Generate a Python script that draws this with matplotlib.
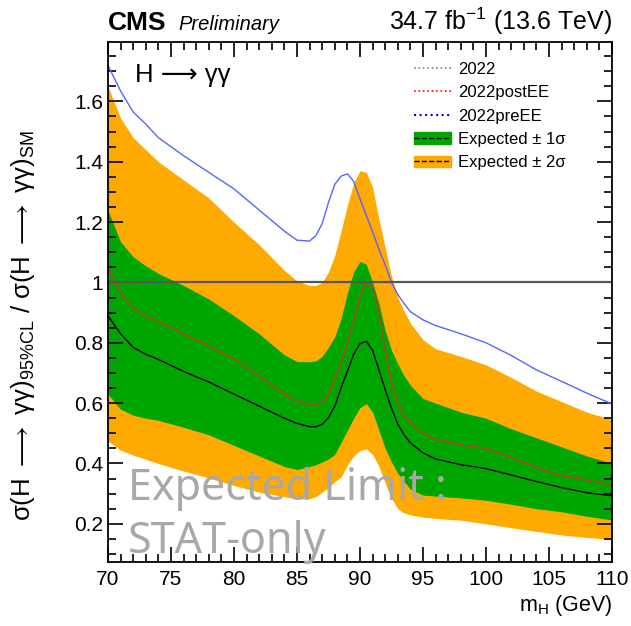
import matplotlib
matplotlib.use("Agg")
import matplotlib.pyplot as plt
from matplotlib.lines import Line2D
from matplotlib.patches import Patch
from matplotlib.ticker import MultipleLocator

plt.rcParams['font.family'] = ['Liberation Sans', 'DejaVu Sans']
plt.rcParams['mathtext.fontset'] = 'custom'
plt.rcParams['mathtext.rm'] = 'Liberation Sans'
plt.rcParams['mathtext.it'] = 'Liberation Sans:italic'
plt.rcParams['mathtext.fallback'] = 'stixsans'

mass = [70, 71, 72, 73, 74, 76, 78, 80, 82, 84, 85, 86, 86.5, 87, 87.5, 88, 88.5, 89, 89.5,
        90, 90.5, 91, 91.5, 92, 92.5, 93, 93.5, 94, 95, 96, 98, 100, 102, 104, 106, 108, 110]

pre_ee = [1.72, 1.635, 1.565, 1.525, 1.48, 1.42, 1.365, 1.31, 1.24, 1.17, 1.14, 1.137, 1.155,
          1.195, 1.265, 1.325, 1.352, 1.36, 1.335, 1.277, 1.222, 1.168, 1.11, 1.058, 1.0, 0.96,
          0.93, 0.903, 0.876, 0.857, 0.83, 0.80, 0.758, 0.71, 0.672, 0.633, 0.597]
post_ee = [1.05, 0.965, 0.915, 0.89, 0.87, 0.83, 0.79, 0.748, 0.69, 0.63, 0.607, 0.596, 0.593,
           0.602, 0.628, 0.68, 0.735, 0.80, 0.875, 0.955, 1.0, 0.985, 0.9, 0.775, 0.67, 0.60,
           0.56, 0.535, 0.50, 0.48, 0.462, 0.45, 0.42, 0.387, 0.36, 0.345, 0.33]
expected = [0.89, 0.83, 0.785, 0.762, 0.745, 0.705, 0.67, 0.63, 0.59, 0.55, 0.533, 0.522, 0.522,
            0.53, 0.552, 0.59, 0.65, 0.705, 0.762, 0.797, 0.805, 0.775, 0.71, 0.645, 0.583, 0.53,
            0.495, 0.468, 0.435, 0.415, 0.396, 0.383, 0.362, 0.34, 0.32, 0.303, 0.293]
up1 = [1.24, 1.135, 1.085, 1.055, 1.03, 0.99, 0.945, 0.89, 0.83, 0.76, 0.738, 0.737, 0.74,
       0.755, 0.785, 0.82, 0.88, 0.965, 1.035, 1.07, 1.06, 1.0, 0.93, 0.84, 0.775, 0.73, 0.69,
       0.66, 0.615, 0.60, 0.57, 0.55, 0.515, 0.485, 0.455, 0.425, 0.40]
dn1 = [0.63, 0.58, 0.56, 0.55, 0.543, 0.52, 0.495, 0.46, 0.425, 0.39, 0.38, 0.39, 0.396, 0.405,
       0.415, 0.43, 0.47, 0.51, 0.55, 0.585, 0.598, 0.57, 0.51, 0.45, 0.405, 0.367, 0.34, 0.315,
       0.295, 0.292, 0.286, 0.278, 0.265, 0.25, 0.24, 0.225, 0.213]
up2 = [1.65, 1.545, 1.48, 1.44, 1.40, 1.34, 1.28, 1.20, 1.125, 1.04, 1.005, 0.99, 0.99, 1.0,
       1.035, 1.09, 1.17, 1.255, 1.33, 1.37, 1.365, 1.315, 1.21, 1.115, 1.02, 0.95, 0.905, 0.865,
       0.81, 0.78, 0.755, 0.727, 0.685, 0.64, 0.605, 0.57, 0.545]
dn2 = [0.475, 0.444, 0.428, 0.414, 0.40, 0.375, 0.352, 0.327, 0.305, 0.29, 0.282, 0.283, 0.29,
       0.305, 0.32, 0.34, 0.355, 0.395, 0.425, 0.443, 0.448, 0.43, 0.39, 0.335, 0.285, 0.25,
       0.236, 0.23, 0.222, 0.218, 0.212, 0.20, 0.187, 0.175, 0.163, 0.155, 0.148]

legend_labels = ["2022", "2022postEE", "2022preEE", "Expected ± 1σ", "Expected ± 2σ"]

GREEN = '#00a600'
ORANGE = '#ffaa00'

fig = plt.figure(figsize=(6.31, 6.26), dpi=100)
ax = fig.add_axes([0.171, 0.102, 0.799, 0.831])

ax.fill_between(mass, dn2, up2, color=ORANGE, linewidth=0)
ax.fill_between(mass, dn1, up1, color=GREEN, linewidth=0)
ax.plot(mass, expected, color='black', lw=1.0)
ax.plot(mass, post_ee, color='#c0392b', lw=1.0)
ax.plot(mass, pre_ee, color='#5566ff', lw=1.0)
ax.axhline(1.0, color='#555555', lw=1.6)

ax.set_xlim(70, 110)
ax.set_ylim(0.073, 1.797)
ax.xaxis.set_major_locator(MultipleLocator(5))
ax.xaxis.set_minor_locator(MultipleLocator(1))
ax.yaxis.set_major_locator(MultipleLocator(0.2))
ax.yaxis.set_minor_locator(MultipleLocator(0.05))
ax.tick_params(which='both', direction='in', top=True, right=True, labelsize=15, width=1.2)
ax.tick_params(which='major', length=11)
ax.tick_params(which='minor', length=5.5)
ax.tick_params(axis='x', pad=6)
ax.set_yticks([0.2, 0.4, 0.6, 0.8, 1.0, 1.2, 1.4, 1.6])
ax.set_yticklabels(["0.2", "0.4", "0.6", "0.8", "1", "1.2", "1.4", "1.6"])
for s in ax.spines.values():
    s.set_linewidth(1.3)

ax.set_xlabel(r"m$_{\mathrm{H}}$ (GeV)", fontsize=15.5, ha='right')
ax.xaxis.set_label_coords(1.0, -0.06)
ax.set_ylabel(r"σ(H $\longrightarrow$ γγ)$_{\mathrm{95\%CL}}$ / σ(H $\longrightarrow$ γγ)$_{\mathrm{SM}}$",
              fontsize=18.5)
ax.yaxis.set_label_coords(-0.14, 0.455)

ax.text(0.054, 0.937, "H ⟶ γγ", transform=ax.transAxes, fontsize=18.5,
        va='center', ha='left')

fig.text(0.171, 0.952, "CMS", fontsize=19, fontweight='bold', ha='left', va='baseline')
fig.text(0.283, 0.952, "Preliminary", fontsize=14.5, fontstyle='italic', ha='left', va='baseline')
fig.text(0.970, 0.952, r"34.7 fb$^{-1}$ (13.6 TeV)", fontsize=18, ha='right', va='baseline')

ax.text(0.04, 0.018, "Expected Limit :\nSTAT-only", transform=ax.transAxes, fontsize=31,
        family=['Noto Sans', 'DejaVu Sans'], fontweight='light', color='#a8a8a8',
        ha='left', va='baseline', linespacing=1.27)

handles = [Line2D([], [], color='grey', ls=':', lw=1.2),
           Line2D([], [], color='red', ls=':', lw=1.2),
           Line2D([], [], color='blue', ls=':', lw=1.5),
           (Patch(color=GREEN), Line2D([], [], color='black', ls='--', lw=1.0)),
           (Patch(color=ORANGE), Line2D([], [], color='black', ls='--', lw=1.0))]
ax.legend(handles, legend_labels, loc='upper left', bbox_to_anchor=(0.584, 0.984),
          frameon=False, fontsize=12, handlelength=2.2, handletextpad=0.45,
          labelspacing=0.5, borderpad=0.2)

fig.savefig("out.png", dpi=100)
